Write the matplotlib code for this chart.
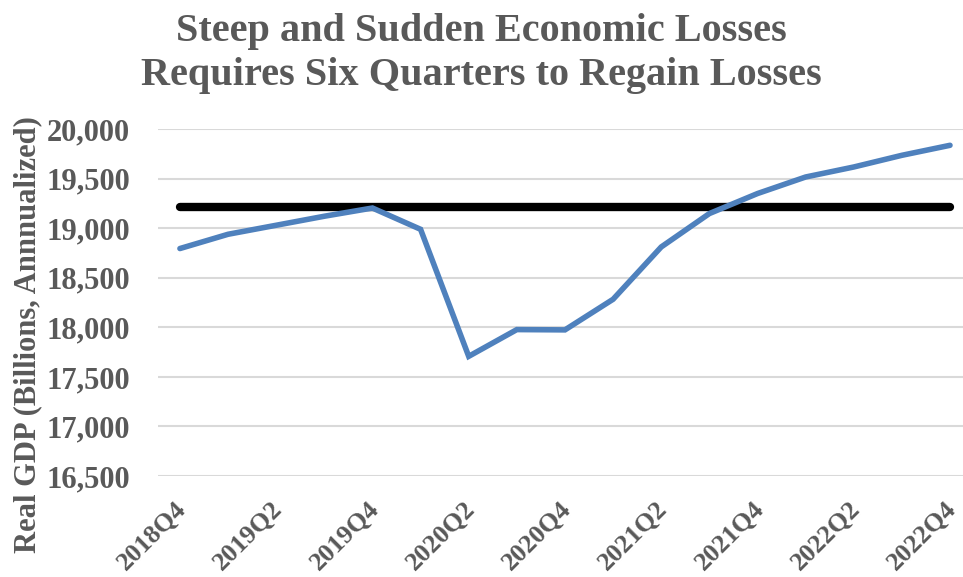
import matplotlib.pyplot as plt
import numpy as np


QUARTERS = [
    "2018Q4", "2019Q1", "2019Q2", "2019Q3", "2019Q4",
    "2020Q1", "2020Q2", "2020Q3", "2020Q4",
    "2021Q1", "2021Q2", "2021Q3", "2021Q4",
    "2022Q1", "2022Q2", "2022Q3", "2022Q4",
]

REAL_GDP = [
    18796, 18940, 19031, 19122, 19205,
    18990, 17708, 17978, 17975,
    18284, 18812, 19149, 19351,
    19518, 19619, 19737, 19838,
]

PRE_COVID_PEAK = 19219

Y_TICKS = [16500, 17000, 17500, 18000, 18500, 19000, 19500, 20000]

TITLE = (
    "Steep and Sudden Economic Losses\n"
    "Requires Six Quarters to Regain Losses"
)
Y_LABEL = "Real GDP (Billions, Annnualized)"

TEXT_COLOR = "#595959"
LINE_COLOR = "#4f81bd"


def main() -> None:
    plt.rcParams["font.family"] = ["Liberation Serif", "DejaVu Serif"]
    plt.rcParams["font.weight"] = "bold"

    figure = plt.figure(figsize=(9.63, 5.77), dpi=100)
    axes = figure.add_axes([0.164, 0.175, 0.836, 0.601])

    positions = np.arange(len(QUARTERS))

    axes.plot(
        [positions[0], positions[-1]],
        [PRE_COVID_PEAK, PRE_COVID_PEAK],
        color="black",
        linewidth=6,
        solid_capstyle="round",
        zorder=3,
    )

    axes.plot(
        positions,
        REAL_GDP,
        color=LINE_COLOR,
        linewidth=4,
        solid_capstyle="round",
        solid_joinstyle="miter",
        zorder=4,
    )

    axes.set_xlim(-0.457, 16.27)
    axes.set_ylim(16500, 20000)

    axes.set_yticks(Y_TICKS)
    axes.set_yticklabels(
        [f"{tick:,}" for tick in Y_TICKS],
        fontsize=22,
        fontweight="bold",
        color=TEXT_COLOR,
    )

    # slanted quarter labels, every other quarter, end of text on the tick
    axes.set_xticks(positions[::2])
    axes.set_xticklabels([])
    x_transform = axes.get_xaxis_transform()
    for position in positions[::2]:
        axes.annotate(
            QUARTERS[position],
            xy=(position, 0),
            xycoords=x_transform,
            xytext=(2, -21),
            textcoords="offset points",
            rotation=45,
            rotation_mode="anchor",
            ha="right",
            va="center",
            fontsize=19,
            fontweight="bold",
            color=TEXT_COLOR,
            annotation_clip=False,
        )

    axes.tick_params(axis="both", length=0)
    axes.tick_params(axis="y", pad=20)

    axes.grid(axis="y", color="#d9d9d9", linewidth=1.5, zorder=0)
    axes.grid(axis="x", visible=False)
    axes.set_axisbelow(True)

    for spine in axes.spines.values():
        spine.set_visible(False)

    figure.text(
        0.029,
        0.421,
        Y_LABEL,
        rotation=90,
        ha="center",
        va="center",
        fontsize=22,
        fontweight="bold",
        color=TEXT_COLOR,
    )

    figure.text(
        0.5,
        0.978,
        TITLE,
        ha="center",
        va="top",
        fontsize=29,
        fontweight="bold",
        color=TEXT_COLOR,
        linespacing=1.25,
    )

    figure.savefig("out.png", dpi=100)
    plt.close(figure)


if __name__ == "__main__":
    main()
